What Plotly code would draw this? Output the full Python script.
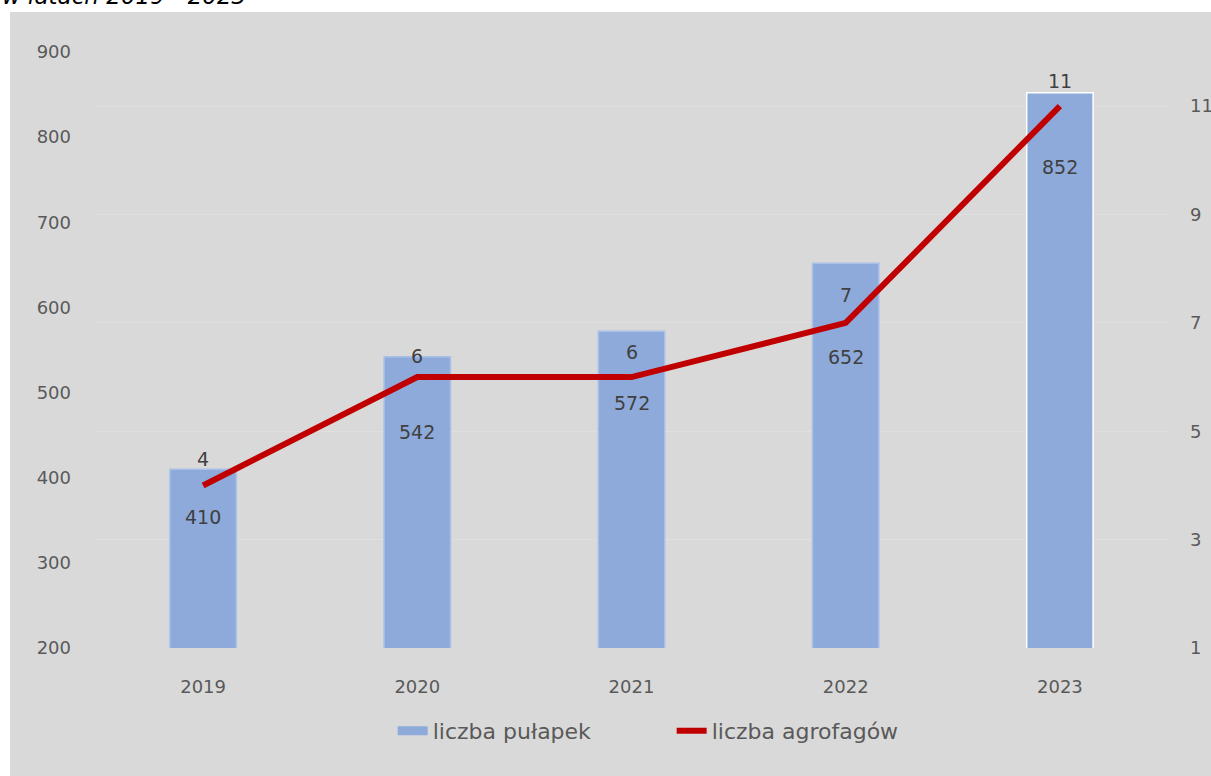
import plotly.graph_objects as go

# Data
years = ["2019", "2020", "2021", "2022", "2023"]
traps = [410, 542, 572, 652, 852]          # liczba pułapek (left axis)
pests = [4, 6, 6, 7, 11]                   # liczba agrofagów (right axis)

left_ticks = [200, 300, 400, 500, 600, 700, 800, 900]
right_ticks = [1, 3, 5, 7, 9, 11]

# Label placement (pixel shifts relative to the mark values)
bar_label_shift = [-48, -75, -72, -94, -74]
line_label_shift = [26, 21, 25, 28, 25]

BG = "#d9d9d9"
BAR_COLOR = "#8eaadb"
LINE_COLOR = "#c00000"
TICK_COLOR = "#595959"
LABEL_COLOR = "#404040"
FONT = "DejaVu Sans"

fig = go.Figure()

fig.add_trace(go.Bar(
    x=years, y=traps, name="liczba pułapek",
    marker=dict(color=BAR_COLOR,
                line=dict(color=["#a9c0e8"] * 4 + ["#ffffff"], width=1.5)),
    width=0.31,
    yaxis="y",
    legendgroup="traps", showlegend=False,
))

# legend key for the bars, drawn as a wide band
fig.add_trace(go.Scatter(
    x=[None], y=[None], name="liczba pułapek",
    mode="lines", line=dict(color=BAR_COLOR, width=9),
    legendgroup="traps", hoverinfo="skip",
))

fig.add_trace(go.Scatter(
    x=years, y=pests, name="liczba agrofagów",
    mode="lines", line=dict(color=LINE_COLOR, width=6),
    yaxis="y2",
))

annotations = []
# category positions are given by index on the category axis
for i, (v, dy) in enumerate(zip(traps, bar_label_shift)):
    annotations.append(dict(x=i, y=v, xref="x", yref="y", text=str(v),
                            showarrow=False, yshift=dy,
                            font=dict(family=FONT, size=19, color=LABEL_COLOR)))
for i, (v, dy) in enumerate(zip(pests, line_label_shift)):
    annotations.append(dict(x=i, y=v, xref="x", yref="y2", text=str(v),
                            showarrow=False, yshift=dy,
                            font=dict(family=FONT, size=19, color=LABEL_COLOR)))

# Heading line above the chart panel
annotations.append(dict(x=-0.0896, y=1.0685, xref="paper", yref="paper",
                        xanchor="left", yanchor="bottom", showarrow=False,
                        text="<i>w latach 2019 - 2023</i>",
                        font=dict(family=FONT, size=23, color="#000000")))

fig.update_layout(
    width=1211, height=776,
    margin=dict(l=96, r=44, t=52, b=128, autoexpand=False),
    paper_bgcolor="white",
    plot_bgcolor=BG,
    font=dict(family=FONT, color=TICK_COLOR),
    xaxis=dict(type="category", range=[-0.5, 4.5], showgrid=False,
               zeroline=False, showline=False,
               tickfont=dict(size=18, color=TICK_COLOR),
               ticks="outside", ticklen=0, ticklabelstandoff=22),
    yaxis=dict(range=[200, 900], tickvals=left_ticks, showgrid=False,
               zeroline=False, showline=False,
               tickfont=dict(size=18, color=TICK_COLOR), ticklabelstandoff=24),
    yaxis2=dict(range=[1, 12], tickvals=right_ticks, overlaying="y", side="right",
                showgrid=True, gridcolor="#dfdfdf", gridwidth=1,
                zeroline=False, showline=False,
                tickfont=dict(size=18, color=TICK_COLOR), ticklabelstandoff=22),
    legend=dict(orientation="h", x=0.277, xanchor="left", y=-0.139,
                yanchor="middle", bgcolor="rgba(0,0,0,0)",
                font=dict(family=FONT, size=22, color=TICK_COLOR),
                entrywidth=234, tracegroupgap=0),
    shapes=[dict(type="rect", xref="paper", yref="paper",
                 x0=-0.0803, x1=1.05, y0=-0.22, y1=1.067,
                 fillcolor=BG, line=dict(width=0), layer="below")],
    annotations=annotations,
    showlegend=True,
)

fig.write_html("out.html")
